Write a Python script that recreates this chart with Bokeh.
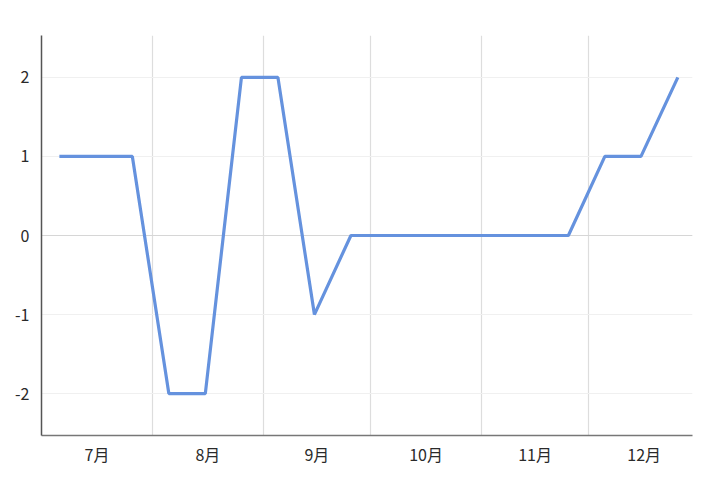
from bokeh.plotting import figure
from bokeh.models import FixedTicker, Range1d, Span
from bokeh.embed import file_html
from bokeh.resources import INLINE

# day offsets from July 1 for each data point
days = [5, 15.2, 25.4, 35.6, 45.8, 55.9, 66.1, 76.3, 86.5, 96.6, 106.7, 116.9, 127.1, 137.2, 147.3, 157.5, 167.6, 177.9]
values = [1, 1, 1, -2, -2, 2, 2, -1, 0, 0, 0, 0, 0, 0, 0, 1, 1, 2]
month_labels = ["7月", "8月", "9月", "10月", "11月", "12月"]
month_starts = [0, 31, 62, 92, 123, 153, 184]
y_ticks = [-2, -1, 0, 1, 2]
y_labels = ["-2", "-1", "0", "1", "2"]

month_centers = [(month_starts[i] + month_starts[i + 1]) / 2 for i in range(len(month_labels))]

FONT = "Noto Sans CJK JP"

p = figure(frame_width=651, frame_height=400, output_backend="svg", toolbar_location=None,
           x_range=Range1d(0, 182), y_range=Range1d(-2.53, 2.53),
           min_border_left=41, min_border_top=35, min_border_right=10, min_border_bottom=40)
p.outline_line_color = None
p.background_fill_color = "white"

p.line(days, values, line_color="#6592de", line_width=3.2)

# axes
p.xaxis.ticker = FixedTicker(ticks=month_centers)
p.xaxis.major_label_overrides = {c: l for c, l in zip(month_centers, month_labels)}
p.yaxis.ticker = FixedTicker(ticks=y_ticks)
p.yaxis.major_label_overrides = {t: l for t, l in zip(y_ticks, y_labels)}
for ax in (p.xaxis[0], p.yaxis[0]):
    ax.major_tick_line_color = None
    ax.minor_tick_line_color = None
    ax.major_label_text_font = FONT
    ax.major_label_text_font_size = "16px"
    ax.major_label_text_color = "#2a2a2a"
    ax.axis_line_width = 1.5
p.xaxis.axis_line_color = "#777777"
p.yaxis.axis_line_color = "#555555"
p.xaxis.major_label_standoff = 0
p.yaxis.major_label_standoff = 6

# grids
p.xgrid.ticker = FixedTicker(ticks=month_starts[1:-1])
p.xgrid.grid_line_color = "#dddddd"
p.xgrid.grid_line_width = 1.2
p.ygrid.ticker = FixedTicker(ticks=y_ticks)
p.ygrid.grid_line_color = "#f0f0f0"
p.ygrid.grid_line_width = 1
p.add_layout(Span(location=0, dimension="width", line_color="#d6d6d6", line_width=1.2, level="underlay"))

open("out.html", "w").write(file_html(p, INLINE))
